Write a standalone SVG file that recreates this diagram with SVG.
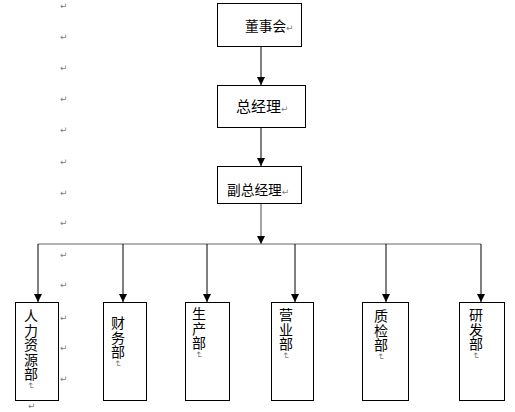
<svg xmlns="http://www.w3.org/2000/svg" width="515" height="412" viewBox="0 0 515 412">
<style>
.box{fill:#fff;stroke:#000;stroke-width:1}
.t{font-family:"Noto Sans CJK SC","Noto Sans",sans-serif;fill:#000}
.v{font-family:"Noto Sans CJK SC","Noto Sans",sans-serif;font-size:14px;fill:#000;writing-mode:vertical-rl;text-orientation:mixed;letter-spacing:0.5px}
.pm{font-family:"DejaVu Sans",sans-serif;font-size:9px;fill:#808080;letter-spacing:0}
.c{stroke:#000;stroke-width:1;fill:none}
.cg{stroke:#666;stroke-width:1.2;fill:none}
</style>
<defs>
<marker id="ah" markerUnits="userSpaceOnUse" markerWidth="8" markerHeight="8" refX="7" refY="3.5" orient="auto" viewBox="0 0 7 7">
<path d="M0,0 L7,3.5 L0,7 Z" fill="#000"/>
</marker>
</defs>
<rect width="515" height="412" fill="#fff"/>

<g id="para-marks" class="pm">
<text x="60" y="9">↵</text>
<text x="60" y="40">↵</text>
<text x="60" y="71">↵</text>
<text x="60" y="102">↵</text>
<text x="60" y="133">↵</text>
<text x="60" y="165">↵</text>
<text x="60" y="196">↵</text>
<text x="60" y="226">↵</text>
<text x="60" y="258">↵</text>
<text x="60" y="288">↵</text>
<text x="60" y="321">↵</text>
<text x="60" y="351">↵</text>
<text x="60" y="382">↵</text>
<text x="28" y="409">↵</text>
</g>

<g id="connectors">
<line class="c" x1="261" y1="46" x2="261" y2="85" marker-end="url(#ah)"/>
<line class="c" x1="261" y1="127" x2="261" y2="166" marker-end="url(#ah)"/>
<line class="cg" x1="261" y1="204" x2="261" y2="244" marker-end="url(#ah)"/>
<line class="cg" x1="38" y1="244" x2="481" y2="244"/>
<line class="c" x1="38" y1="244" x2="38" y2="302" marker-end="url(#ah)"/>
<line class="c" x1="123" y1="244" x2="123" y2="302" marker-end="url(#ah)"/>
<line class="c" x1="207" y1="244" x2="207" y2="302" marker-end="url(#ah)"/>
<line class="c" x1="295" y1="244" x2="295" y2="302" marker-end="url(#ah)"/>
<line class="c" x1="386" y1="244" x2="386" y2="302" marker-end="url(#ah)"/>
<line class="c" x1="481" y1="244" x2="481" y2="302" marker-end="url(#ah)"/>
</g>

<g id="node-board">
<rect class="box" x="217.5" y="3.5" width="84" height="43"/>
<text class="t" x="245" y="31" font-size="13.7">董事会<tspan class="pm">↵</tspan></text>
</g>
<g id="node-gm">
<rect class="box" x="217.5" y="85.5" width="88" height="42"/>
<text class="t" x="236" y="112" font-size="15">总经理<tspan class="pm">↵</tspan></text>
</g>
<g id="node-dgm">
<rect class="box" x="217.5" y="166.5" width="84" height="37"/>
<text class="t" x="227" y="195" font-size="13.7">副总经理<tspan class="pm">↵</tspan></text>
</g>

<g id="node-hr">
<rect class="box" x="15.5" y="302.5" width="43" height="98"/>
<text class="v" x="31" y="309">人力资源部<tspan class="pm">↵</tspan></text>
</g>
<g id="node-finance">
<rect class="box" x="103.5" y="302.5" width="43" height="98"/>
<text class="v" x="118" y="316">财务部<tspan class="pm">↵</tspan></text>
</g>
<g id="node-production">
<rect class="box" x="185.5" y="302.5" width="44" height="98"/>
<text class="v" x="199" y="307">生产部<tspan class="pm">↵</tspan></text>
</g>
<g id="node-sales">
<rect class="box" x="271.5" y="302.5" width="42" height="98"/>
<text class="v" x="286" y="308">营业部<tspan class="pm">↵</tspan></text>
</g>
<g id="node-qc">
<rect class="box" x="362.5" y="302.5" width="46" height="98"/>
<text class="v" x="381" y="309">质检部<tspan class="pm">↵</tspan></text>
</g>
<g id="node-rd">
<rect class="box" x="459.5" y="302.5" width="45" height="98"/>
<text class="v" x="476" y="308">研发部<tspan class="pm">↵</tspan></text>
</g>
</svg>
